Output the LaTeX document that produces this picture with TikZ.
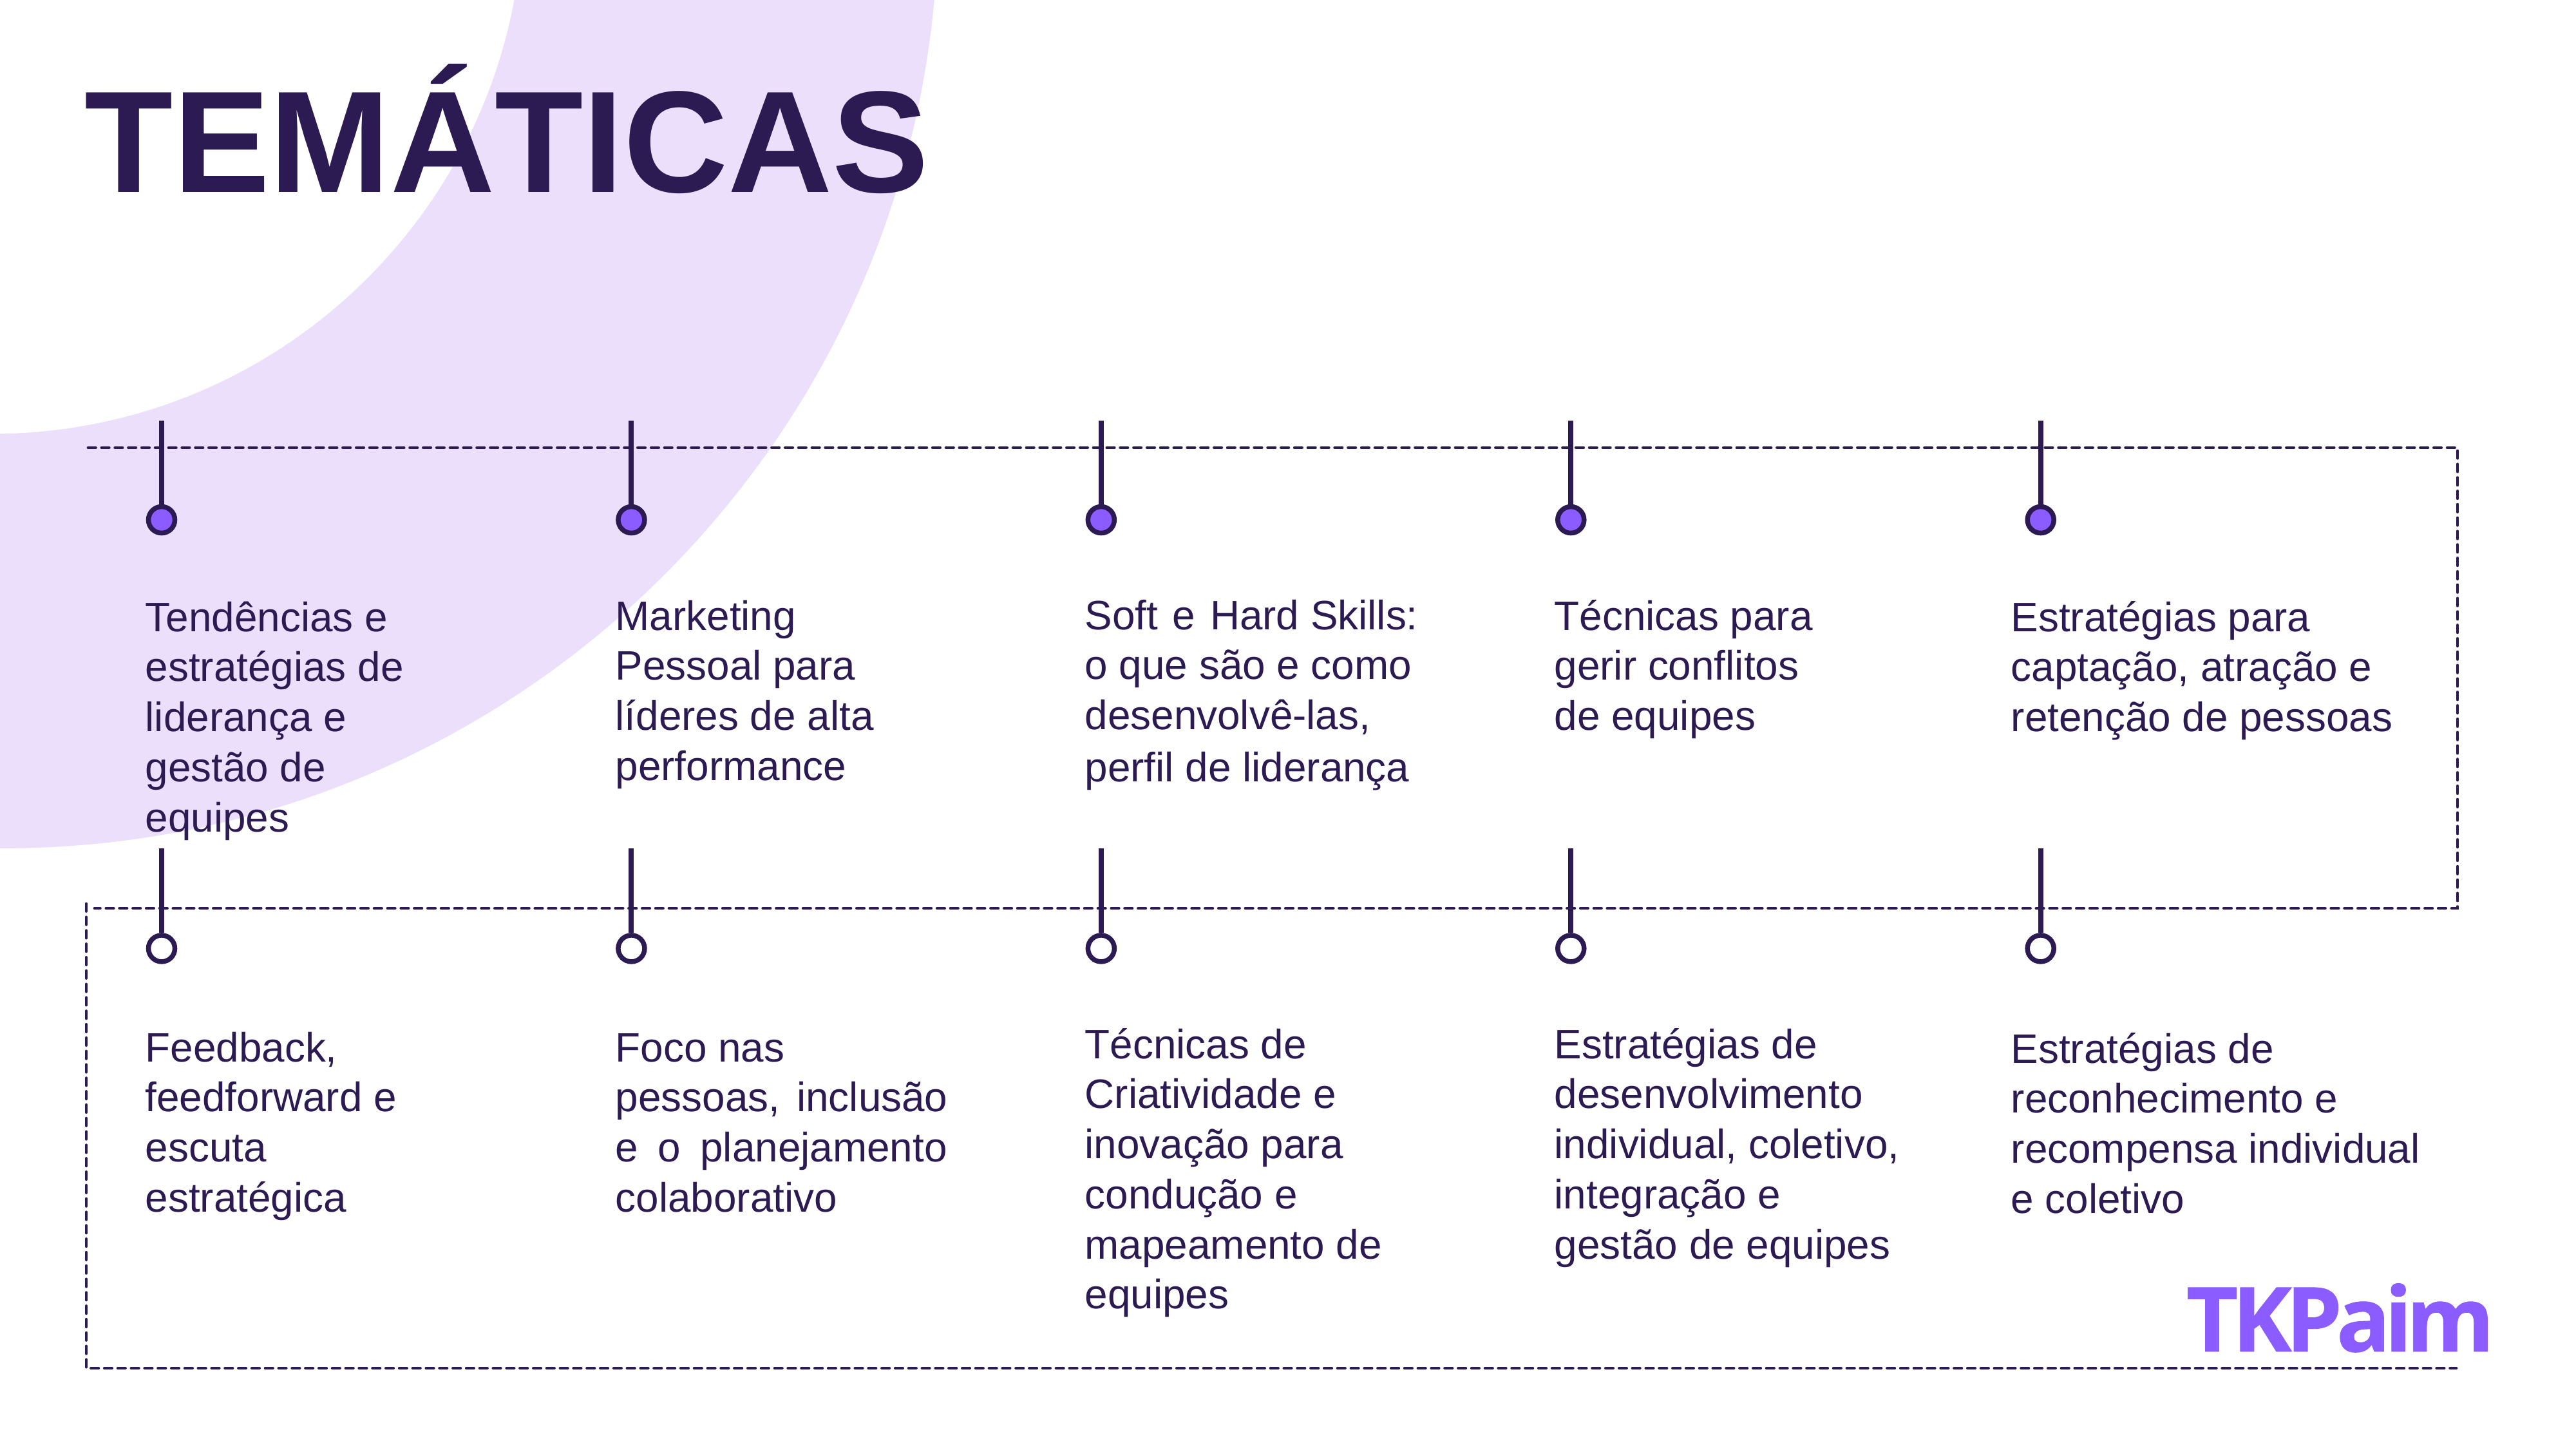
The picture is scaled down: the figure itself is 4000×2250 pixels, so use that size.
\documentclass[tikz,border=0pt]{standalone}
\usepackage{xcolor}
\usepackage{fontspec}
\usepackage{tikz}
\usetikzlibrary{positioning}
\setmainfont{Liberation Sans}
\newfontfamily\logofont{Open Sans}[LetterSpace=-6.4,FakeBold=0.6]
\definecolor{inkdark}{HTML}{2C1A52}
\definecolor{violet}{HTML}{8B5CFF}
\definecolor{lilac}{HTML}{EBDFFB}
\tikzset{
    dashline/.style={
      draw=inkdark,
      line width=0.047cm,
      line cap=round,
      dash pattern=on 0.115cm off 0.093cm,
    },
    pinline/.style={
      draw=inkdark,
      line width=0.08cm,
    },
    dotfull/.style={
      circle,
      draw=inkdark,
      fill=violet,
      line width=0.075cm,
      minimum size=0.41cm,
      inner sep=0pt,
    },
    dotempty/.style={
      dotfull,
      fill=white,
    },
    topic/.style={
      anchor=north west,
      inner sep=0pt,
      text=inkdark,
      font=\fontsize{18.15}{22.1}\selectfont,
    },
}
\begin{document}
\begin{tikzpicture}[x=0.01cm,y=-0.01cm]

    \useasboundingbox (0,0) rectangle (4000,2250);

    % quarter ring behind the title
    \begin{scope}
    \clip (0,0) rectangle (4000,2250);
    \fill[lilac,even odd rule] (6,-134) circle (14.5cm) (-13,-152) circle (8.25cm);
    \end{scope}

    \node[anchor=base west, inner sep=0pt, text=inkdark,
    font=\fontsize{63.9}{70}\selectfont\bfseries] (TITLE) at (131,298) {TEMÁTICAS};

    % dashed track
    \coordinate (A1) at (137,695);
    \coordinate (A2) at (3816,695);
    \coordinate (A3) at (3816,1410);
    \coordinate (A4) at (147,1410);
    \coordinate (B1) at (134,1403);
    \coordinate (B2) at (134,2124);
    \coordinate (B3) at (3814,2124);
    \draw[dashline] (A1) -- (A2) -- (A3) -- (A4);
    \draw[dashline] (B1) -- (B2) -- (B3);

    % upper row
    \node[dotfull] (D1) at (251,807) {};
    \node[dotfull, right of=D1, node distance=7.29cm] (D2) {};
    \node[dotfull, right of=D2, node distance=7.29cm] (D3) {};
    \node[dotfull, right of=D3, node distance=7.29cm] (D4) {};
    \node[dotfull, right of=D4, node distance=7.29cm] (D5) {};

    % lower row
    \node[dotempty, below of=D1, node distance=6.65cm] (E1) {};
    \node[dotempty, below of=D2, node distance=6.65cm] (E2) {};
    \node[dotempty, below of=D3, node distance=6.65cm] (E3) {};
    \node[dotempty, below of=D4, node distance=6.65cm] (E4) {};
    \node[dotempty, below of=D5, node distance=6.65cm] (E5) {};

    \coordinate[above of=D1, node distance=1.54cm] (P1);
    \coordinate[above of=D2, node distance=1.54cm] (P2);
    \coordinate[above of=D3, node distance=1.54cm] (P3);
    \coordinate[above of=D4, node distance=1.54cm] (P4);
    \coordinate[above of=D5, node distance=1.54cm] (P5);
    \coordinate[above of=E1, node distance=1.55cm] (Q1);
    \coordinate[above of=E2, node distance=1.55cm] (Q2);
    \coordinate[above of=E3, node distance=1.55cm] (Q3);
    \coordinate[above of=E4, node distance=1.55cm] (Q4);
    \coordinate[above of=E5, node distance=1.55cm] (Q5);

    \path[pinline]
    (P1) edge (D1)
    (P2) edge (D2)
    (P3) edge (D3)
    (P4) edge (D4)
    (P5) edge (D5)
    (Q1) edge (E1)
    (Q2) edge (E2)
    (Q3) edge (E3)
    (Q4) edge (E4)
    (Q5) edge (E5);

    \node[topic] (T1) at (225,925)
    {
      \begin{tabular}{@{}l@{}}
        Tendências e \\
        estratégias de \\
        liderança e \\
        gestão de \\
        equipes
      \end{tabular}
    };

    \node[topic] (T2) at (955,923)
    {
      \begin{tabular}{@{}l@{}}
        Marketing \\
        Pessoal para \\
        líderes de alta \\
        performance
      \end{tabular}
    };

    \node[topic] (T3) at (1684,922)
    {
      \begin{tabular}{@{}l@{}}
        Soft\hspace{1.4pt} e\hspace{1.4pt} Hard Skills: \\
        o que são e como \\
        desenvolvê-las, \\[1pt]
        perfil de liderança
      \end{tabular}
    };

    \node[topic] (T4) at (2413,923)
    {
      \begin{tabular}{@{}l@{}}
        Técnicas para \\
        gerir conflitos \\
        de equipes
      \end{tabular}
    };

    \node[topic] (T5) at (3122,925)
    {
      \begin{tabular}{@{}l@{}}
        Estratégias para \\
        captação, atração e \\
        retenção de pessoas
      \end{tabular}
    };

    \node[topic] (U1) at (225,1593)
    {
      \begin{tabular}{@{}l@{}}
        Feedback, \\
        feedforward e \\
        escuta \\
        estratégica
      \end{tabular}
    };

    \node[topic] (U2) at (955,1593)
    {
      \begin{tabular}{@{}l@{}}
        Foco nas \\
        pessoas,\hspace{2.4pt} inclusão \\
        e\hspace{3.6pt} o\hspace{3.6pt} planejamento \\
        colaborativo
      \end{tabular}
    };

    \node[topic] (U3) at (1684,1588)
    {
      \begin{tabular}{@{}l@{}}
        Técnicas de \\
        Criatividade e \\
        inovação para \\
        condução e \\
        mapeamento de \\
        equipes
      \end{tabular}
    };

    \node[topic] (U4) at (2413,1588)
    {
      \begin{tabular}{@{}l@{}}
        Estratégias de \\
        desenvolvimento \\
        individual, coletivo, \\
        integração e \\
        gestão de equipes
      \end{tabular}
    };

    \node[topic] (U5) at (3122,1595)
    {
      \begin{tabular}{@{}l@{}}
        Estratégias de \\
        reconhecimento e \\
        recompensa individual \\
        e coletivo
      \end{tabular}
    };

    \node[anchor=base west, inner sep=0pt, text=violet,
    font=\fontsize{39.5}{44}\logofont\bfseries] (LOGO) at (3394,2098) {TKPaim};

\end{tikzpicture}
\end{document}
